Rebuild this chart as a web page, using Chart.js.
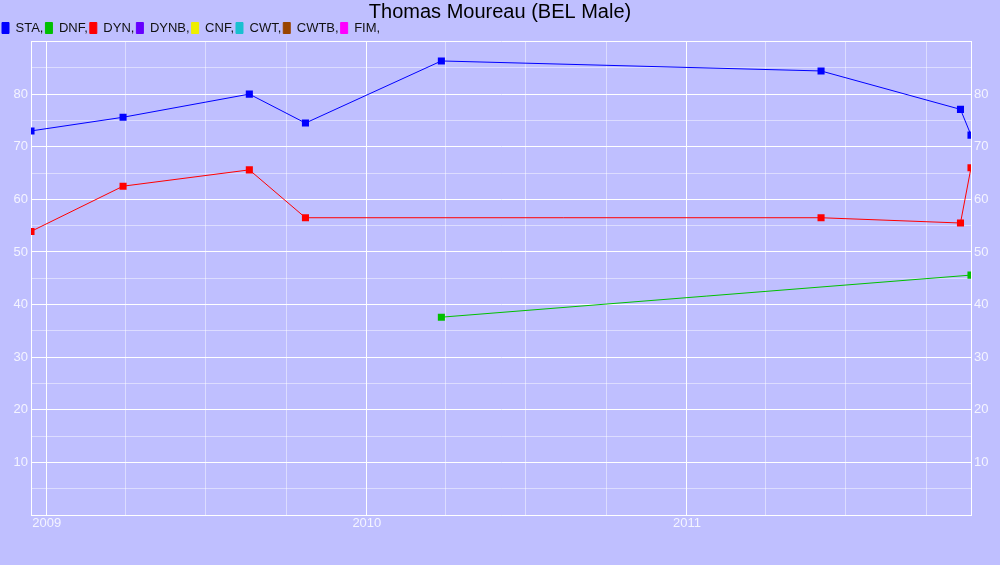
<!DOCTYPE html>
<html>
<head>
<meta charset="utf-8">
<script src="https://cdn.jsdelivr.net/npm/chart.js@4.4.1/dist/chart.umd.min.js"></script>
<style>
    html, body { margin: 0; padding: 0; background: #bfbfff; }
    #wrap { width: 1000px; height: 565px; }
</style>
</head>
<body>
<div id="wrap"><canvas id="chart"></canvas></div>
<script>
// 数据
const seriesNames = ['STA', 'DNF', 'DYN', 'DYNB', 'CNF', 'CWT', 'CWTB', 'FIM'];
const seriesColors = ['#0000ff', '#00c000', '#ff0000', '#6600ff', '#eeee00', '#19c0d0', '#994400', '#ff00ff'];

const staDates = ['2008-12-14', '2009-03-29', '2009-08-20', '2009-10-23', '2010-03-27', '2011-06-03', '2011-11-09', '2011-11-21'];
const staValues = [73.0, 75.6, 80.0, 74.5, 86.3, 84.4, 77.1, 72.2];

const dnfDates = ['2010-03-27', '2011-11-21'];
const dnfValues = [37.6, 45.6];

const dynDates = ['2008-12-14', '2009-03-29', '2009-08-20', '2009-10-23', '2011-06-03', '2011-11-09', '2011-11-21'];
const dynValues = [53.9, 62.5, 65.6, 56.5, 56.5, 55.5, 66.0];

const yMin = 0;
const yMax = 90;

// 日期转时间戳
function toTime(d) {
    return Date.parse(d + 'T00:00:00Z');
}

function makePoints(dates, values) {
    return dates.map((d, i) => ({ x: toTime(d), y: values[i] }));
}

const pointsBySeries = {
    STA: makePoints(staDates, staValues),
    DNF: makePoints(dnfDates, dnfValues),
    DYN: makePoints(dynDates, dynValues)
};

const allTimes = [].concat(staDates, dnfDates, dynDates).map(toTime);
const xMin = Math.min.apply(null, allTimes);
const xMax = Math.max.apply(null, allTimes);

const datasets = seriesNames.map((name, i) => ({
    label: name + ',',
    data: pointsBySeries[name] || [],
    borderColor: seriesColors[i],
    backgroundColor: seriesColors[i],
    borderWidth: 1,
    pointStyle: 'rect',
    pointRadius: 5,
    pointHoverRadius: 5,
    pointBorderWidth: 0,
    tension: 0,
    fill: false
}));

// 季度刻度
function quarterTicks(min, max) {
    const ticks = [];
    const start = new Date(min);
    let y = start.getUTCFullYear();
    let m = Math.floor(start.getUTCMonth() / 3) * 3;
    while (true) {
        const t = Date.UTC(y, m, 1);
        if (t > max) break;
        if (t >= min) ticks.push({ value: t });
        m += 3;
        if (m >= 12) { m = 0; y++; }
    }
    return ticks;
}

function isYearStart(v) {
    const d = new Date(v);
    return d.getUTCMonth() === 0 && d.getUTCDate() === 1;
}

const xTickFont = { family: 'Liberation Sans, Arial, sans-serif', size: 13, lineHeight: 1 };
const yTickFont = { family: 'Liberation Sans, Arial, sans-serif', size: 13, lineHeight: 0.8 };
const tickColor = '#f4f4ff';

function yTickLabel(v) {
    if (v === yMin || v === yMax || v % 10 !== 0) return '';
    return String(v);
}

function yGridColor(ctx) {
    const v = ctx.tick ? ctx.tick.value : 0;
    return v % 10 === 0 ? '#ffffff' : 'rgba(255,255,255,0.45)';
}

// 背景
const bgPlugin = {
    id: 'bg',
    beforeDraw(chart) {
        const c = chart.ctx;
        c.save();
        c.fillStyle = '#bfbfff';
        c.fillRect(0, 0, chart.width, chart.height);
        c.restore();
    }
};

// 图例高度收紧一点
const legendFitPlugin = {
    id: 'legendFit',
    afterInit(chart) {
        const lg = chart.legend;
        if (!lg) return;
        const fit = lg.fit;
        lg.fit = function () {
            fit.call(this);
            this.height -= 3;
        };
    }
};

new Chart(document.getElementById('chart'), {
    type: 'line',
    data: { datasets: datasets },
    plugins: [bgPlugin, legendFitPlugin],
    options: {
        responsive: true,
        maintainAspectRatio: false,
        animation: false,
        layout: { padding: { top: 0, left: 0, right: 0, bottom: 33 } },
        plugins: {
            title: {
                display: true,
                text: 'Thomas Moureau (BEL Male)',
                color: '#000000',
                font: { family: 'Liberation Sans, Arial, sans-serif', size: 20, weight: 'normal', lineHeight: 1 },
                padding: { top: 2, bottom: -2.5 }
            },
            legend: {
                display: true,
                position: 'top',
                align: 'start',
                labels: {
                    boxWidth: 7,
                    boxHeight: 11,
                    padding: 2,
                    color: '#111111',
                    font: { family: 'Liberation Sans, Arial, sans-serif', size: 13, lineHeight: 1 }
                }
            },
            tooltip: { enabled: false }
        },
        scales: {
            x: {
                type: 'linear',
                min: xMin,
                max: xMax,
                afterBuildTicks(scale) {
                    scale.ticks = quarterTicks(scale.min, scale.max);
                },
                ticks: {
                    autoSkip: false,
                    maxRotation: 0,
                    padding: 2,
                    color: tickColor,
                    font: xTickFont,
                    callback(v) {
                        return isYearStart(v) ? String(new Date(v).getUTCFullYear()) : '';
                    }
                },
                grid: {
                    drawTicks: false,
                    color(ctx) {
                        return ctx.tick && isYearStart(ctx.tick.value) ? '#ffffff' : 'rgba(255,255,255,0.45)';
                    }
                },
                border: { color: '#ffffff' }
            },
            y: {
                position: 'left',
                min: yMin,
                max: yMax,
                afterFit(scale) { scale.width = 31; },
                ticks: {
                    stepSize: 5,
                    autoSkip: false,
                    padding: 3,
                    color: tickColor,
                    font: yTickFont,
                    callback: yTickLabel
                },
                grid: { drawTicks: false, color: yGridColor },
                border: { color: '#ffffff' }
            },
            y2: {
                position: 'right',
                min: yMin,
                max: yMax,
                afterFit(scale) { scale.width = 29; },
                ticks: {
                    stepSize: 5,
                    autoSkip: false,
                    padding: 3,
                    color: tickColor,
                    font: yTickFont,
                    callback: yTickLabel
                },
                grid: { display: false, drawTicks: false },
                border: { color: '#ffffff' }
            }
        }
    }
});
</script>
</body>
</html>
